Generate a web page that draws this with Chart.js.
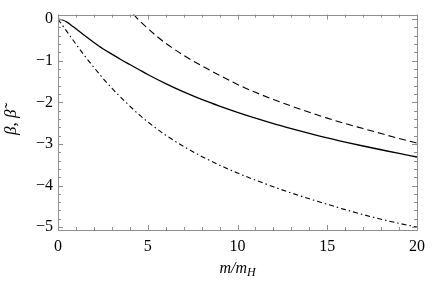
<!DOCTYPE html>
<html>
<head>
<meta charset="utf-8">
<script src="https://cdn.jsdelivr.net/npm/chart.js@4/dist/chart.umd.min.js"></script>
<style>
html,body{margin:0;padding:0;background:#fff;}
#wrap{width:432px;height:284px;position:relative;}
#probe{position:absolute;left:-1000px;top:0;font-family:"Liberation Serif";}
</style>
</head>
<body>
<div id="wrap"><canvas id="c" width="432" height="284"></canvas></div>
<span id="probe">0 <i>m</i></span>
<script>
// ---- data ----
const xSolid = [0, 0.25, 0.5, 0.75, 1, 1.5, 2, 2.5, 3, 3.5, 4, 4.5, 5, 6, 7, 8, 9, 10, 11, 12, 13, 14, 15, 16, 17, 18, 19, 20];
const ySolid = [0, -0.02, -0.07, -0.15, -0.23, -0.40, -0.56, -0.71, -0.84, -0.97, -1.09, -1.21, -1.33, -1.55, -1.75, -1.93, -2.09, -2.24, -2.38, -2.51, -2.63, -2.745, -2.855, -2.955, -3.05, -3.14, -3.23, -3.315];

const xDashed = [4.2, 4.5, 5, 5.5, 6, 7, 8, 9, 10, 11, 12, 13, 14, 15, 16, 17, 18, 19, 20];
const yDashed = [0.12, -0.02, -0.22, -0.41, -0.58, -0.87, -1.12, -1.35, -1.57, -1.76, -1.93, -2.09, -2.24, -2.38, -2.51, -2.63, -2.75, -2.87, -2.98];

const xDashDot = [0, 0.5, 1, 1.5, 2, 2.5, 3, 3.5, 4, 4.5, 5, 6, 7, 8, 9, 10, 11, 12, 13, 14, 15, 16, 17, 18, 19, 20];
const yDashDot = [0, -0.30, -0.60, -0.89, -1.16, -1.42, -1.66, -1.88, -2.09, -2.29, -2.47, -2.79, -3.06, -3.30, -3.51, -3.70, -3.87, -4.03, -4.18, -4.32, -4.45, -4.58, -4.70, -4.81, -4.91, -5.0];

const xTicks = [0, 5, 10, 15, 20];
const yTicks = [0, -1, -2, -3, -4, -5];
const xMinorStep = 1;
const yMinorStep = 0.2;

const toPts = (xs, ys) => xs.map((x, i) => ({x: x, y: ys[i]}));

const FRAME = '#8f8f8f';
const SERIF = "'Liberation Serif', 'Times New Roman', serif";

const framePlugin = {
  id: 'frame',
  afterDatasetsDraw(chart) {
    const {ctx, chartArea: a, scales: {x, y}} = chart;
    ctx.save();
    ctx.strokeStyle = FRAME;
    ctx.lineWidth = 1;
    ctx.strokeRect(Math.round(a.left) + 0.5, Math.round(a.top) + 0.5, Math.round(a.right - a.left), Math.round(a.bottom - a.top));
    ctx.beginPath();
    for (let v = x.min; v <= x.max + 1e-9; v += xMinorStep) {
      const px = Math.round(x.getPixelForValue(v)) + 0.5;
      const major = xTicks.some(t => Math.abs(t - v) < 1e-6);
      const len = major ? 5 : 3;
      ctx.moveTo(px, a.bottom); ctx.lineTo(px, a.bottom - len);
      ctx.moveTo(px, a.top); ctx.lineTo(px, a.top + len);
    }
    for (let v = -5; v <= 0 + 1e-9; v += yMinorStep) {
      const py = Math.round(y.getPixelForValue(v)) + 0.5;
      const major = yTicks.some(t => Math.abs(t - v) < 1e-6);
      const len = major ? 5 : 3;
      ctx.moveTo(a.left, py); ctx.lineTo(a.left + len, py);
      ctx.moveTo(a.right, py); ctx.lineTo(a.right - len, py);
    }
    ctx.stroke();
    ctx.restore();
  },
  afterDraw(chart) {
    const {ctx, scales: {x}} = chart;
    const cx = (x.left + x.right) / 2;
    const cy = 273;
    ctx.save();
    ctx.fillStyle = '#000';
    ctx.textBaseline = 'alphabetic';
    ctx.textAlign = 'left';
    const main = 'm/m';
    ctx.font = "italic 12px " + SERIF;
    const subW = ctx.measureText('H').width;
    ctx.font = "italic 16px " + SERIF;
    const mainW = ctx.measureText(main).width;
    const start = cx - (mainW + subW) / 2;
    ctx.fillText(main, start, cy);
    ctx.font = "italic 12px " + SERIF;
    ctx.fillText('H', start + mainW, cy + 3);
    ctx.restore();
  }
};

const fmt = v => (v < 0 ? '\u2212' + Math.abs(v) : String(v));

function draw() {
  new Chart(document.getElementById('c'), {
    type: 'line',
    data: {
      datasets: [
        {data: toPts(xSolid, ySolid), borderColor: '#000', borderWidth: 1.3, pointRadius: 0, cubicInterpolationMode: 'monotone', fill: false},
        {data: toPts(xDashed, yDashed), borderColor: '#000', borderWidth: 1.1, borderDash: [7, 4], pointRadius: 0, cubicInterpolationMode: 'monotone', fill: false},
        {data: toPts(xDashDot, yDashDot), borderColor: '#000', borderWidth: 1.1, borderDash: [5, 3, 1.5, 3], pointRadius: 0, cubicInterpolationMode: 'monotone', fill: false}
      ]
    },
    options: {
      responsive: false,
      animation: false,
      events: [],
      layout: {padding: {top: 5, right: 9, left: 0, bottom: 0}},
      plugins: {legend: {display: false}, tooltip: {enabled: false}},
      scales: {
        x: {
          type: 'linear', min: 0, max: 20,
          afterBuildTicks: s => { s.ticks = xTicks.map(v => ({value: v})); },
          afterFit: s => { s.height = 54; },
          grid: {display: false, drawTicks: false},
          border: {display: false},
          ticks: {color: '#000', padding: 7, maxRotation: 0, font: {family: SERIF, size: 16}, callback: fmt}
        },
        y: {
          type: 'linear', min: -5.07, max: 0.11,
          afterBuildTicks: s => { s.ticks = yTicks.map(v => ({value: v})); },
          afterFit: s => { s.width = 58; },
          grid: {display: false, drawTicks: false},
          border: {display: false},
          title: {display: true, text: '\u03B2, \u03B2\u0303', color: '#000', font: {family: SERIF, size: 17, style: 'italic'}, padding: {top: 1, bottom: 0}},
          ticks: {color: '#000', padding: 5, font: {family: SERIF, size: 16}, callback: fmt}
        }
      }
    },
    plugins: [framePlugin]
  });
}

Promise.all([
  document.fonts.load('16px "Liberation Serif"'),
  document.fonts.load('italic 16px "Liberation Serif"')
]).then(draw, draw);
</script>
</body>
</html>
